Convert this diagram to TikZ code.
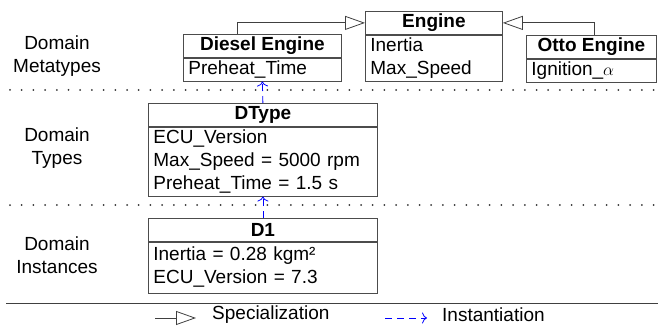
\documentclass[tikz,border=0pt]{standalone}
\usepackage{fontspec}
\setmainfont{Liberation Sans}
\usetikzlibrary{positioning,arrows.meta}

\begin{document}
\begin{tikzpicture}[x=1pt,y=1pt]
        \tikzset{every node/.style={font=\fontsize{19}{23}\selectfont},
            cls/.style={draw=black!70, line width=0.8pt, inner sep=0pt,
                minimum height=23pt, anchor=north west,
                font=\fontsize{19}{23}\selectfont\bfseries},
            attrs/.style={draw=black!70, line width=0.8pt, align=left,
                inner xsep=5pt, inner ysep=0pt, text height=16pt,
                execute at end node=\strut},
            layer/.style={align=center},
            spec/.style={draw=black!75, line width=0.8pt,
                -{Triangle[open,length=20pt,width=14pt]}},
            inst/.style={draw=blue, line width=0.8pt, dash pattern=on 7pt off 5pt,
                -{To[length=5pt,width=11pt]}},
            sep/.style={draw=black!80, line width=2pt, line cap=round,
                dash pattern=on 0pt off 11.7pt}}
        \useasboundingbox (0,0) rectangle (662,330);

        % metatypes
        \node[cls, minimum width=137pt] (engine) at (365,319) {Engine};
        \node[attrs, text width=127pt, below=0pt of engine] (engineAttr)
            {Inertia\\Max\_Speed};
        \node[cls, minimum width=158pt] (diesel) at (183,296) {Diesel Engine};
        \node[attrs, text width=148pt, below=0pt of diesel] (dieselAttr)
            {Preheat\_Time};
        \node[cls, minimum width=130pt] (otto) at (526,295) {Otto Engine};
        \node[attrs, text width=120pt, below=0pt of otto] (ottoAttr)
            {Ignition\_$\alpha$};

        % types
        \node[cls, minimum width=229pt] (dtype) at (148,227) {DType};
        \node[attrs, text width=219pt, below=0pt of dtype] (dtypeAttr)
            {ECU\_Version\\Max\_Speed = 5000 rpm\\Preheat\_Time = 1.5 s};

        % instances
        \node[cls, minimum width=229pt] (d1) at (148,112) {D1};
        \node[attrs, text width=219pt, inner ysep=2.5pt, below=0pt of d1] (d1Attr)
            {Inertia = 0.28 kgm²\\ECU\_Version = 7.3};

        % layer names
        \node[layer] (meta) at (57,274) {Domain\\Metatypes};
        \node[layer] (types) at (57,182) {Domain\\Types};
        \node[layer] (inst) at (57,75) {Domain\\Instances};

        % separators
        \draw[sep] (10,240) -- (660,240);
        \draw[sep] (10,125) -- (660,125);
        \draw[draw=black!75, line width=0.8pt] (6,27) -- (658,27);

        % relations
        \draw[spec] ([xshift=-25pt]diesel.north) |- (engine.west);
        \draw[spec] ([xshift=3pt]otto.north) |- (engine.east);
        \draw[inst] (dtype.north) -- (dieselAttr.south);
        \draw[inst] (d1.north) -- (dtypeAttr.south);

        % legend
        \coordinate (specA) at (155,12);
        \coordinate (specB) at (196,12);
        \coordinate (instA) at (385,12);
        \coordinate (instB) at (427,12);
        \draw[spec] (specA) -- (specB);
        \draw[inst] (instA) -- (instB);
        \node[anchor=west, inner sep=0pt] (specText) at (212,15) {Specialization};
        \node[anchor=west, inner sep=0pt] (instText) at (442,15) {Instantiation};
    \end{tikzpicture}
\end{document}
